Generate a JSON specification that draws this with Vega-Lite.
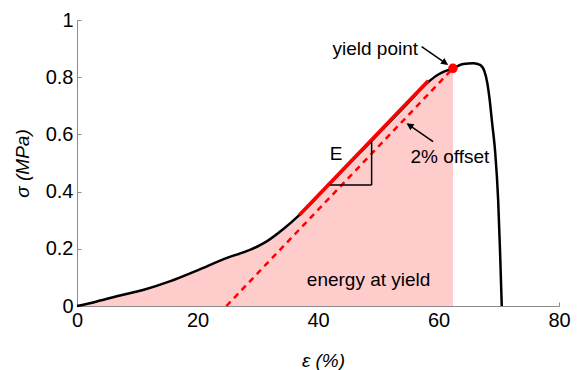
{
  "$schema": "https://vega.github.io/schema/vega-lite/v6.json",
  "width": 482,
  "height": 286,
  "autosize": {"type": "none"},
  "padding": {"left": 77, "top": 20, "right": 22, "bottom": 64},
  "config": {
    "view": {"stroke": null},
    "font": "Liberation Sans",
    "axis": {
      "grid": false,
      "domainColor": "#8c8c8c",
      "tickColor": "#8c8c8c",
      "tickSize": -4,
      "labelColor": "#000000",
      "labelFontSize": 20,
      "labelFont": "Liberation Sans",
      "labelFlush": false,
      "labelOverlap": false,
      "labelPadding": 8,
      "titleFont": "Liberation Sans",
      "titleFontSize": 19,
      "titleFontStyle": "italic",
      "titleFontWeight": "normal",
      "titleColor": "#000000"
    }
  },
  "datasets": {
    "curve": [
      {"x": 0, "y": 0},
      {"x": 3.3, "y": 0.016},
      {"x": 6.6, "y": 0.034},
      {"x": 11.1, "y": 0.057},
      {"x": 15.5, "y": 0.087},
      {"x": 19.9, "y": 0.124},
      {"x": 24.9, "y": 0.168},
      {"x": 28.8, "y": 0.197},
      {"x": 31.5, "y": 0.226},
      {"x": 34.3, "y": 0.27},
      {"x": 36.8, "y": 0.316},
      {"x": 40, "y": 0.384},
      {"x": 45, "y": 0.493},
      {"x": 50, "y": 0.602},
      {"x": 55, "y": 0.711},
      {"x": 58.3, "y": 0.783},
      {"x": 59.7, "y": 0.806},
      {"x": 61.0, "y": 0.82},
      {"x": 62.4, "y": 0.831},
      {"x": 64.1, "y": 0.846},
      {"x": 65.8, "y": 0.849},
      {"x": 66.9, "y": 0.843},
      {"x": 67.6, "y": 0.822},
      {"x": 68.1, "y": 0.78},
      {"x": 68.5, "y": 0.72},
      {"x": 68.9, "y": 0.64},
      {"x": 69.4, "y": 0.54},
      {"x": 69.9, "y": 0.371},
      {"x": 70.2, "y": 0.2},
      {"x": 70.5, "y": 0}
    ],
    "offset": [{"x": 24.8, "y": 0}, {"x": 62.4, "y": 0.831}],
    "modulus": [{"x": 36.9, "y": 0.318}, {"x": 58.3, "y": 0.788}],
    "triangle": [
      {"x": 42.0, "x2": 48.9, "y": 0.423, "y2": 0.423},
      {"x": 48.9, "x2": 48.9, "y": 0.423, "y2": 0.575}
    ],
    "yield": [{"x": 62.4, "y": 0.831}],
    "arrows": [
      {"x": 57.2, "y": 0.907, "x2": 61.4, "y2": 0.846},
      {"x": 59.1, "y": 0.575, "x2": 54.9, "y2": 0.636}
    ],
    "head1": [{"x": 61.6, "y": 0.843}],
    "head2": [{"x": 54.7, "y": 0.639}],
    "labels": [
      {"x": 49.5, "y": 0.9, "text": "yield point"},
      {"x": 61.9, "y": 0.52, "text": "2% offset"},
      {"x": 48.4, "y": 0.091, "text": "energy at yield"},
      {"x": 43.0, "y": 0.531, "text": "E"}
    ]
  },
  "layer": [
    {
      "data": {"name": "curve"},
      "transform": [{"filter": "datum.x <= 62.4"}],
      "mark": {"type": "area", "color": "#ffcccc", "interpolate": "monotone"},
      "encoding": {
        "x": {
          "field": "x", "type": "quantitative",
          "scale": {"domain": [0, 80], "nice": false},
          "axis": {"values": [0, 20, 40, 60, 80], "title": "ε (%)", "titlePadding": 21, "titleX": 246}
        },
        "y": {
          "field": "y", "type": "quantitative",
          "scale": {"domain": [0, 1], "nice": false},
          "axis": {"values": [0, 0.2, 0.4, 0.6, 0.8, 1], "format": "~g", "title": "σ (MPa)", "titlePadding": 13}
        }
      }
    },
    {
      "data": {"name": "offset"},
      "mark": {"type": "line", "color": "#ff0000", "strokeWidth": 2.5, "strokeDash": [6, 5]},
      "encoding": {
        "x": {"field": "x", "type": "quantitative"},
        "y": {"field": "y", "type": "quantitative"}
      }
    },
    {
      "data": {"name": "curve"},
      "mark": {"type": "line", "color": "#000000", "strokeWidth": 2.5, "interpolate": "monotone"},
      "encoding": {
        "x": {"field": "x", "type": "quantitative"},
        "y": {"field": "y", "type": "quantitative"}
      }
    },
    {
      "data": {"name": "modulus"},
      "mark": {"type": "line", "color": "#ff0000", "strokeWidth": 3.5},
      "encoding": {
        "x": {"field": "x", "type": "quantitative"},
        "y": {"field": "y", "type": "quantitative"}
      }
    },
    {
      "data": {"name": "triangle"},
      "mark": {"type": "rule", "color": "#000000", "strokeWidth": 1.5},
      "encoding": {
        "x": {"field": "x", "type": "quantitative"},
        "x2": {"field": "x2"},
        "y": {"field": "y", "type": "quantitative"},
        "y2": {"field": "y2"}
      }
    },
    {
      "data": {"name": "yield"},
      "mark": {"type": "point", "shape": "circle", "filled": true, "color": "#ff0000", "size": 90, "opacity": 1},
      "encoding": {
        "x": {"field": "x", "type": "quantitative"},
        "y": {"field": "y", "type": "quantitative"}
      }
    },
    {
      "data": {"name": "arrows"},
      "mark": {"type": "rule", "color": "#000000", "strokeWidth": 1.5},
      "encoding": {
        "x": {"field": "x", "type": "quantitative"},
        "x2": {"field": "x2"},
        "y": {"field": "y", "type": "quantitative"},
        "y2": {"field": "y2"}
      }
    },
    {
      "data": {"name": "head1"},
      "mark": {"type": "point", "shape": "M0,0 L-1,-0.5 L-1,0.5 Z", "filled": true, "color": "#000000", "size": 200, "angle": 34.6, "opacity": 1},
      "encoding": {
        "x": {"field": "x", "type": "quantitative"},
        "y": {"field": "y", "type": "quantitative"}
      }
    },
    {
      "data": {"name": "head2"},
      "mark": {"type": "point", "shape": "M0,0 L-1,-0.5 L-1,0.5 Z", "filled": true, "color": "#000000", "size": 200, "angle": 214.7, "opacity": 1},
      "encoding": {
        "x": {"field": "x", "type": "quantitative"},
        "y": {"field": "y", "type": "quantitative"}
      }
    },
    {
      "data": {"name": "labels"},
      "mark": {"type": "text", "font": "Liberation Sans", "fontSize": 19, "color": "#000000", "align": "center", "baseline": "middle"},
      "encoding": {
        "x": {"field": "x", "type": "quantitative"},
        "y": {"field": "y", "type": "quantitative"},
        "text": {"field": "text"}
      }
    }
  ]
}
